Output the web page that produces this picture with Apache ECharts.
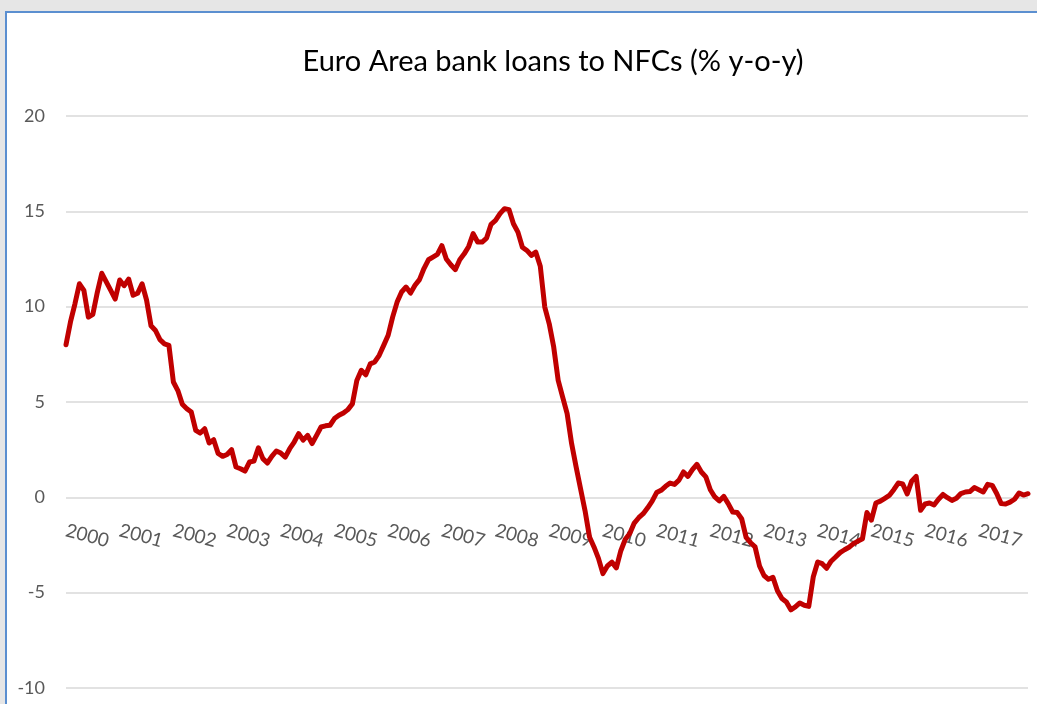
<!DOCTYPE html>
<html>
<head>
<meta charset="utf-8">
<script src="https://cdn.jsdelivr.net/npm/echarts@6/dist/echarts.min.js"></script>
<style>
  html, body { margin: 0; padding: 0; background: #e6e6e6; }
  #panel { position: absolute; left: 5px; top: 11px; width: 1040px; height: 700px; background: #ffffff;
           border-left: 2px solid #5b8fd0; border-top: 2px solid #5b8fd0; }
  #chart { position: absolute; left: 0; top: 0; width: 1037px; height: 704px; }
</style>
</head>
<body>
<div id="panel"></div>
<div id="chart"></div>
<script>
// Monthly data, Jan 2000 – Dec 2017
const years = ['2000','2001','2002','2003','2004','2005','2006','2007','2008','2009','2010','2011','2012','2013','2014','2015','2016','2017'];
const v2000 = [8.0, 9.2, 10.15, 11.2, 10.85, 9.45, 9.6, 10.75, 11.75, 11.3, 10.85, 10.4];
const v2001 = [11.4, 11.1, 11.45, 10.6, 10.7, 11.2, 10.35, 9.0, 8.75, 8.27, 8.05, 7.97];
const v2002 = [6.05, 5.6, 4.88, 4.65, 4.47, 3.51, 3.37, 3.6, 2.85, 3.02, 2.3, 2.15];
const v2003 = [2.25, 2.5, 1.59, 1.5, 1.38, 1.85, 1.9, 2.6, 2.03, 1.8, 2.15, 2.43];
const v2004 = [2.32, 2.11, 2.55, 2.9, 3.34, 3.0, 3.25, 2.82, 3.25, 3.69, 3.75, 3.78];
const v2005 = [4.13, 4.3, 4.42, 4.6, 4.9, 6.13, 6.66, 6.43, 7.0, 7.1, 7.45, 7.97];
const v2006 = [8.5, 9.45, 10.24, 10.77, 11.03, 10.71, 11.12, 11.42, 12.0, 12.46, 12.6, 12.74];
const v2007 = [13.2, 12.5, 12.2, 11.94, 12.46, 12.77, 13.16, 13.83, 13.39, 13.39, 13.6, 14.32];
const v2008 = [14.53, 14.88, 15.14, 15.09, 14.35, 13.91, 13.12, 12.95, 12.69, 12.86, 12.12, 9.98];
const v2009 = [9.1, 7.88, 6.13, 5.26, 4.39, 2.82, 1.6, 0.45, -0.7, -2.08, -2.6, -3.2];
const v2010 = [-4.0, -3.6, -3.4, -3.7, -2.8, -2.2, -1.9, -1.35, -1.07, -0.86, -0.55, -0.2];
const v2011 = [0.25, 0.37, 0.58, 0.75, 0.68, 0.9, 1.33, 1.1, 1.45, 1.73, 1.33, 1.07];
const v2012 = [0.4, 0.02, -0.19, 0.05, -0.33, -0.77, -0.8, -1.12, -2.1, -2.38, -2.6, -3.6];
const v2013 = [-4.1, -4.3, -4.2, -4.9, -5.31, -5.49, -5.9, -5.75, -5.54, -5.66, -5.72, -4.18];
const v2014 = [-3.39, -3.48, -3.72, -3.35, -3.13, -2.9, -2.75, -2.62, -2.43, -2.3, -2.17, -0.8];
const v2015 = [-1.2, -0.3, -0.2, -0.05, 0.1, 0.4, 0.75, 0.7, 0.18, 0.85, 1.1, -0.68];
const v2016 = [-0.35, -0.3, -0.4, -0.1, 0.15, -0.02, -0.16, -0.05, 0.2, 0.28, 0.3, 0.51];
const v2017 = [0.4, 0.28, 0.68, 0.63, 0.2, -0.33, -0.35, -0.25, -0.1, 0.23, 0.12, 0.19];
const yTicks = [-10, -5, 0, 5, 10, 15, 20];

const yearly = [v2000, v2001, v2002, v2003, v2004, v2005, v2006, v2007, v2008, v2009,
                v2010, v2011, v2012, v2013, v2014, v2015, v2016, v2017];
const categories = [];
const values = [];
years.forEach((y, yi) => {
  yearly[yi].forEach((v, m) => {
    categories.push(y + '-' + String(m + 1).padStart(2, '0'));
    values.push(v);
  });
});

const chart = echarts.init(document.getElementById('chart'), null, { renderer: 'canvas' });
const FONT = 'Lato, "Open Sans", sans-serif';
chart.setOption({
  backgroundColor: 'transparent',
  animation: false,
  title: {
    text: 'Euro Area bank loans to NFCs (% y-o-y)',
    left: 548, top: 42, textAlign: 'center',
    textStyle: { fontFamily: FONT, fontSize: 29, fontWeight: 'normal', color: '#000000' }
  },
  grid: { left: 66, right: 9, top: 116, bottom: 16, containLabel: false },
  xAxis: {
    type: 'category',
    data: categories,
    boundaryGap: false,
    position: 'bottom',
    offset: -191,
    axisLine: { show: false, onZero: false },
    axisTick: { show: false },
    splitLine: { show: false },
    axisLabel: {
      interval: (i) => i % 12 === 0,
      formatter: (v) => v.slice(0, 4),
      rotate: -15,
      margin: 33,
      color: '#595959',
      fontFamily: FONT,
      fontSize: 19
    }
  },
  yAxis: {
    type: 'value',
    min: yTicks[0], max: yTicks[yTicks.length - 1], interval: 5,
    axisLine: { show: false },
    axisTick: { show: false },
    splitLine: { lineStyle: { color: '#d9d9d9', width: 1.5 } },
    axisLabel: { margin: 21, color: '#595959', fontFamily: FONT, fontSize: 18 }
  },
  series: [{
    type: 'line',
    data: values,
    symbol: 'none',
    lineStyle: { color: '#C00000', width: 5, join: 'round', cap: 'round' },
    z: 3
  }]
});
</script>
</body>
</html>
